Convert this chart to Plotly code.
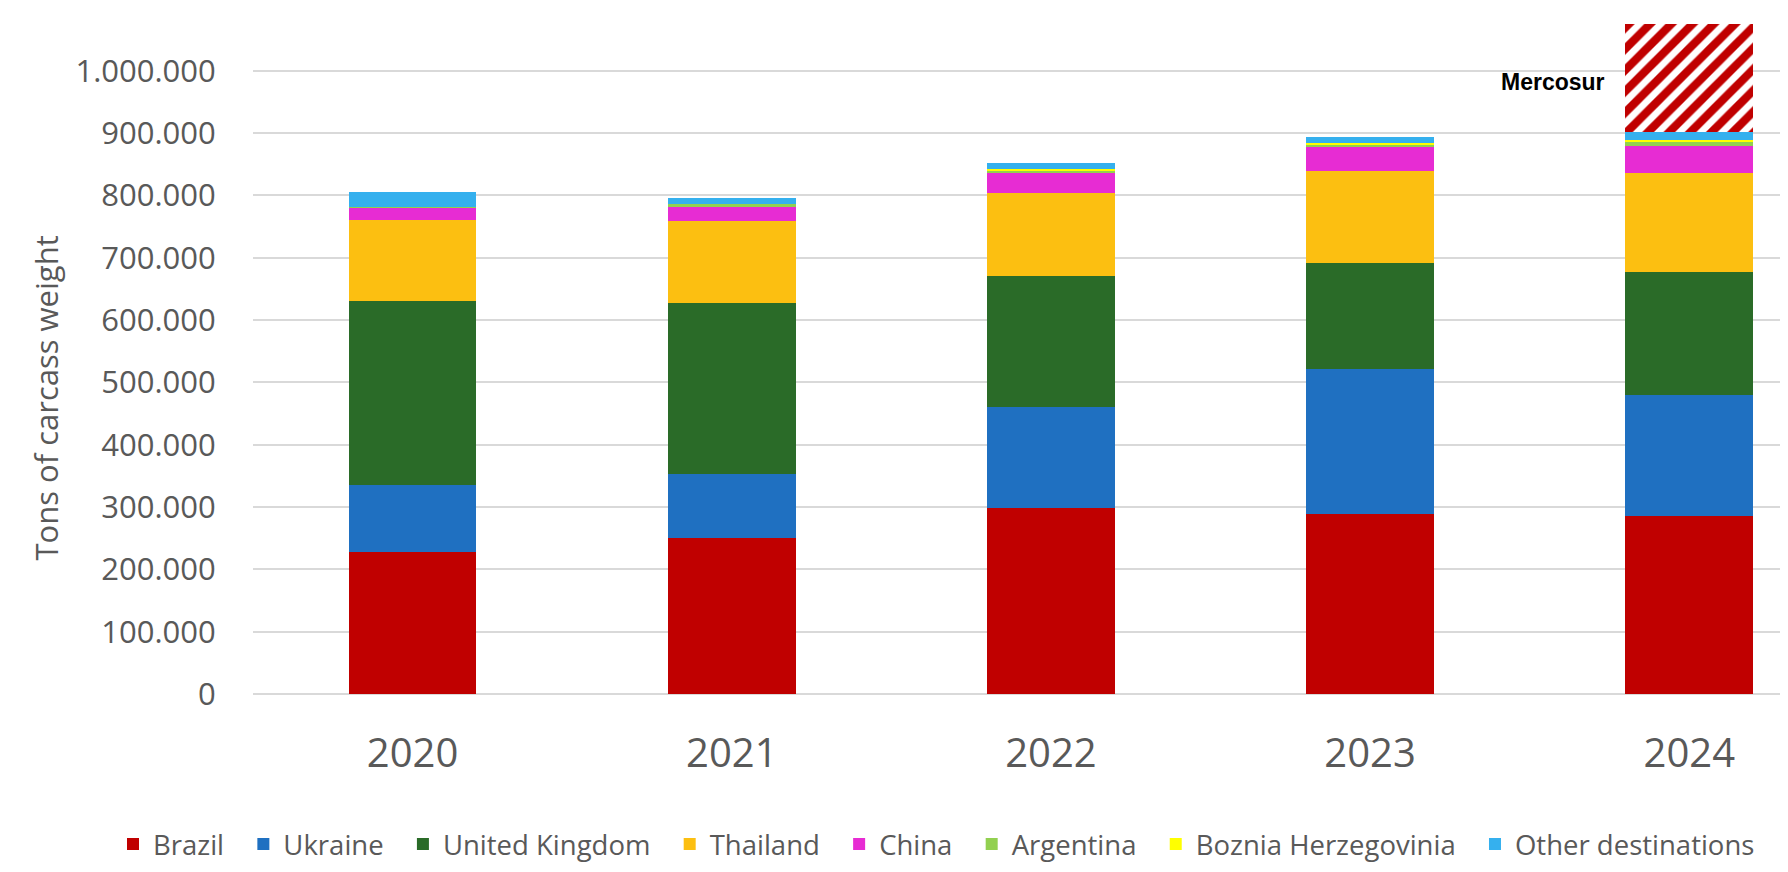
import plotly.graph_objects as go

years = ["2020", "2021", "2022", "2023", "2024"]

brazil = [228000, 251000, 299000, 289000, 286000]
ukraine = [108000, 102000, 161000, 233000, 194000]
united_kingdom = [295000, 275000, 210000, 170000, 198000]
thailand = [130000, 131000, 134000, 148000, 158000]
china = [19000, 24000, 32000, 38000, 43000]
argentina = [2000, 3000, 4000, 3500, 8000]
bosnia = [0, 0, 3000, 3500, 2500]
other = [24000, 10000, 9000, 9500, 12000]

mercosur_year = ["2024"]
mercosur = [173000]

series = [
    ("Brazil", brazil, "#C00000"),
    ("Ukraine", ukraine, "#1F70C1"),
    ("United Kingdom", united_kingdom, "#2A6B28"),
    ("Thailand", thailand, "#FCBF11"),
    ("China", china, "#E72CD3"),
    ("Argentina", argentina, "#92D050"),
    ("Boznia Herzegovinia", bosnia, "#FFFF00"),
    ("Other destinations", other, "#35B0EE"),
]

font_family = "Open Sans"
grey = "#595959"

W, H = 1780, 864
L, R, T, B = 245, 3, 13, 178
plot_w = W - L - R
plot_h = H - T - B
PAD = "\u00a0\u00a0"  # extra spacing after legend entries

fig = go.Figure()
for name, vals, col in series:
    fig.add_trace(go.Bar(
        x=years, y=vals, name=name + PAD,
        marker=dict(color=col, line=dict(width=0)),
        hovertemplate="%{x}: %{y:,}<extra>" + name + "</extra>",
    ))

fig.add_trace(go.Bar(
    x=mercosur_year, y=mercosur, name="Mercosur", showlegend=False,
    marker=dict(color="white", line=dict(width=0),
                pattern=dict(shape="/", fgcolor="#C00000", bgcolor="white",
                             fgopacity=1, size=15, solidity=0.55)),
))

base_2024 = sum(s[1][-1] for s in series)
fig.add_annotation(
    x=3.8, y=base_2024 + mercosur[0] * 0.47, xref="x", yref="y",
    text="<b>Mercosur</b>", showarrow=False, xanchor="right", yanchor="middle",
    xshift=-18, font=dict(family="Liberation Sans", size=23, color="#000000"),
)

fig.add_annotation(
    x=(38 - L) / plot_w, xref="x domain", y=0.439, yref="y domain",
    text="Tons of carcass weight", textangle=-90, showarrow=False,
    xanchor="center", yanchor="middle",
    font=dict(family=font_family, size=31, color=grey),
)

fig.update_layout(
    width=W, height=H,
    barmode="stack", bargap=0.6,
    separators=",.",
    plot_bgcolor="white", paper_bgcolor="white",
    margin=dict(l=L, r=R, t=T, b=B),
    font=dict(family=font_family, color=grey),
    showlegend=True,
    legend=dict(
        orientation="h", xref="paper", yref="paper",
        x=(105 - L) / plot_w, xanchor="left",
        y=-(836 - (H - B)) / plot_h, yanchor="middle",
        font=dict(family=font_family, size=27.5, color=grey),
        traceorder="normal", itemclick=False,
    ),
)

fig.update_xaxes(
    type="category", range=[-0.5, 4.3],
    showgrid=False, showline=False, zeroline=False,
    ticks="outside", ticklen=24, tickcolor="rgba(0,0,0,0)",
    tickfont=dict(family=font_family, size=40, color=grey),
)
fig.update_yaxes(
    range=[0, 1080000], dtick=100000, tick0=0, tickformat=",d",
    showgrid=True, gridcolor="#D9D9D9", gridwidth=2,
    zeroline=True, zerolinecolor="#D9D9D9", zerolinewidth=2,
    showline=False,
    ticks="outside", ticklen=30, tickcolor="rgba(0,0,0,0)",
    tickfont=dict(family=font_family, size=31, color=grey),
)

fig.write_html("out.html")
